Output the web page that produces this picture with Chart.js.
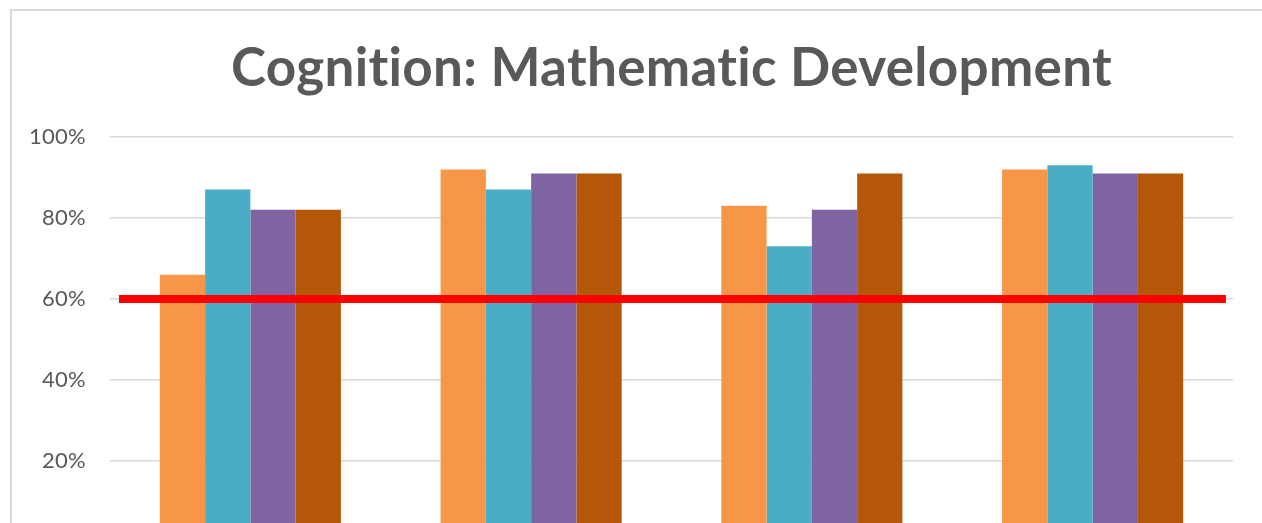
<!DOCTYPE html>
<html>
<head>
<meta charset="utf-8">
<script src="https://cdn.jsdelivr.net/npm/chart.js@4"></script>
<style>
  html, body { margin: 0; padding: 0; background: #fff; overflow: hidden; }
  #wrap { position: absolute; left: 0; top: 0; width: 1262px; height: 579px; }
  #frame { position: absolute; left: 10px; top: 9px; width: 1300px; height: 600px;
           border: 2px solid #d9d9d9; pointer-events: none; }
</style>
</head>
<body>
<div id="frame"></div>
<div id="wrap"><canvas id="grafico"></canvas></div>
<script>
// datos
const categorias = ['Grupo 1', 'Grupo 2', 'Grupo 3', 'Grupo 4'];
const serie1 = [66, 92, 83, 92];
const serie2 = [87, 87, 73, 93];
const serie3 = [82, 91, 82, 91];
const serie4 = [82, 91, 91, 91];
const umbral = 60;
const umbralDesde = 0.032;   // extremos de la línea roja en unidades de categoría
const umbralHasta = 3.975;
const ticksY = [0, 20, 40, 60, 80, 100];
const titulo = 'Cognition: Mathematic Development';

const colores = ['#F79646', '#4BACC6', '#8064A2', '#B55708'];
const espaciado = '0.3px'; // evita la ligadura "ti" de Lato

// tamaño del título ajustado al ancho del original (~875px)
const ctxMed = document.createElement('canvas').getContext('2d');
ctxMed.font = 'bold 100px Lato';
ctxMed.letterSpacing = espaciado;
const tamTitulo = Math.round(100 * 875 / ctxMed.measureText(titulo).width);
const altoLinea = tamTitulo * 1.2;

// línea roja del 60% dibujada con las escalas del gráfico
const lineaUmbral = {
    id: 'lineaUmbral',
    beforeDraw(chart) { chart.ctx.letterSpacing = espaciado; },
    afterDatasetsDraw(chart) {
        const { ctx, scales } = chart;
        const y = scales.y.getPixelForValue(umbral);
        ctx.save();
        ctx.strokeStyle = '#FF0000';
        ctx.lineWidth = 8;
        ctx.beginPath();
        ctx.moveTo(scales.x2.getPixelForValue(umbralDesde), y);
        ctx.lineTo(scales.x2.getPixelForValue(umbralHasta), y);
        ctx.stroke();
        ctx.restore();
    }
};

new Chart(document.getElementById('grafico'), {
    type: 'bar',
    data: {
        labels: categorias,
        datasets: [
            { label: 'Serie 1', data: serie1, backgroundColor: colores[0] },
            { label: 'Serie 2', data: serie2, backgroundColor: colores[1] },
            { label: 'Serie 3', data: serie3, backgroundColor: colores[2] },
            { label: 'Serie 4', data: serie4, backgroundColor: colores[3] }
        ]
    },
    plugins: [lineaUmbral],
    options: {
        responsive: true,
        maintainAspectRatio: false,
        animation: false,
        layout: { padding: { left: 0, right: 29, top: 0, bottom: 0 } },
        datasets: { bar: { barPercentage: 1, categoryPercentage: 0.645 } },
        plugins: {
            legend: { display: false },
            tooltip: { enabled: false },
            title: {
                display: true,
                fullSize: false,
                text: titulo,
                color: '#595959',
                font: { family: 'Lato', weight: 'bold', size: tamTitulo, lineHeight: 1.2 },
                padding: { top: 69 - altoLinea / 2, bottom: 137 - (69 + altoLinea / 2) }
            }
        },
        scales: {
            x: { display: false },
            x2: { type: 'linear', display: false, min: 0, max: 4, offset: false },
            y: {
                min: 0, max: 100,
                afterFit: s => { s.width = 110; },
                afterBuildTicks: s => { s.ticks = ticksY.map(v => ({ value: v })); },
                border: { display: false },
                grid: { color: '#d9d9d9', lineWidth: 1.5, drawTicks: false },
                ticks: {
                    padding: 24,
                    color: '#595959',
                    font: { family: 'Lato', size: 22 },
                    callback: v => v + '%'
                }
            }
        }
    }
});
</script>
</body>
</html>
